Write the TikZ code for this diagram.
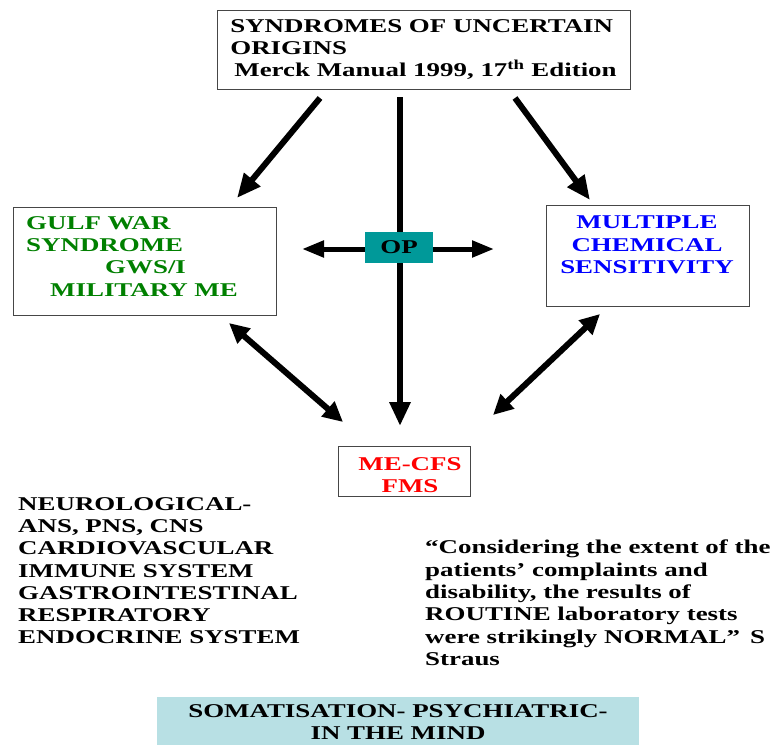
\documentclass[tikz,border=0pt]{standalone}
\usepackage{fontspec}
\setmainfont{Liberation Serif}[FakeStretch=1.38]
\usetikzlibrary{arrows.meta,positioning}

\definecolor{gwsgreen}{RGB}{0,128,0}
\definecolor{mcsblue}{RGB}{0,0,255}
\definecolor{cfsred}{RGB}{255,0,0}
\definecolor{opteal}{RGB}{0,153,153}
\definecolor{somablue}{RGB}{184,224,228}
\definecolor{framegray}{RGB}{70,70,70}

\newcommand\slidefont{\fontsize{19.5}{22.3}\selectfont\bfseries}

\tikzset{
    frame/.style={draw=framegray, line width=1pt, fill=white},
    txt/.style={inner sep=0pt, align=left, anchor=north west, font=\slidefont},
    ctxt/.style={inner sep=0pt, align=center, anchor=north, font=\slidefont},
    fatarrow/.style={line width=6pt, -{Triangle[length=24pt,width=20pt]}},
    sidearrow/.style={line width=5pt, -{Triangle[length=22pt,width=16pt]}},
    twoarrow/.style={line width=6pt, {Triangle[length=20pt,width=19pt]}-{Triangle[length=20pt,width=19pt]}},
}

\begin{document}
\begin{tikzpicture}[x=1pt, y=-1pt]

        \useasboundingbox (0,0) rectangle (773,744);

        % boxes
        \node[frame, minimum width=413pt, minimum height=79pt, align=left, font=\slidefont] (origins) at (423.5,49.5)
            {SYNDROMES OF UNCERTAIN\\ORIGINS\\\hspace*{4pt}Merck Manual 1999, 17\textsuperscript{th} Edition};

        \node[frame, minimum width=263pt, minimum height=108pt] (gws) at (144.5,261) {};
        \node[txt, text=gwsgreen] (gwstext) at (26,216)
            {GULF WAR\\SYNDROME\\\hspace*{79pt}GWS/I\\\hspace*{24pt}MILITARY ME};

        \node[frame, minimum width=203pt, minimum height=101pt] (mcs) at (647.5,255.5) {};
        \node[ctxt, text=mcsblue] (mcstext) at (647,216) {MULTIPLE\\CHEMICAL\\SENSITIVITY};

        \node[frame, minimum width=132pt, minimum height=50pt] (mecfs) at (404,471) {};
        \node[ctxt, text=cfsred] (mecfstext) at (410,457) {ME-CFS\\FMS};

        % arrows
        \coordinate (gwsin) at (320,98);
        \coordinate (gwstip) at (237,198);
        \coordinate (mcsin) at (515,98);
        \coordinate (mcstip) at (590,200);
        \coordinate (downin) at (400,97);
        \coordinate (downtip) at (400,426);

        \draw[fatarrow] (gwsin) -- (gwstip);
        \draw[fatarrow] (mcsin) -- (mcstip);
        \draw[fatarrow] (downin) -- (downtip);

        \node[fill=opteal, minimum width=68pt, minimum height=31pt, inner sep=0pt, font=\slidefont] (op) at (399,247.5) {OP};
        \coordinate (opleft) at (302,249);
        \coordinate (opright) at (494,249);
        \draw[sidearrow] (op.west |- opleft) -- (opleft);
        \draw[sidearrow] (op.east |- opright) -- (opright);

        \coordinate (gwslow) at (229,323);
        \coordinate (cfsleft) at (343,422);
        \coordinate (mcslow) at (600,314);
        \coordinate (cfsright) at (493,415);
        \draw[twoarrow] (gwslow) -- (cfsleft);
        \draw[twoarrow] (mcslow) -- (cfsright);

        % texts below
        \node[txt] (systems) at (18,497)
            {NEUROLOGICAL-\\ANS, PNS, CNS\\CARDIOVASCULAR\\IMMUNE SYSTEM\\GASTROINTESTINAL\\RESPIRATORY\\ENDOCRINE SYSTEM};

        \node[txt] (quote) at (425,540)
            {“Considering the extent of the\\patients’ complaints and\\disability, the results of\\ROUTINE laboratory tests\\were strikingly NORMAL”\hspace{10pt}S\\Straus};

        \node[fill=somablue, minimum width=482pt, minimum height=60pt, anchor=north] (soma) at (398,697) {};
        \node[ctxt] (somatext) at (398,704) {SOMATISATION- PSYCHIATRIC-\\IN THE MIND};

\end{tikzpicture}
\end{document}
